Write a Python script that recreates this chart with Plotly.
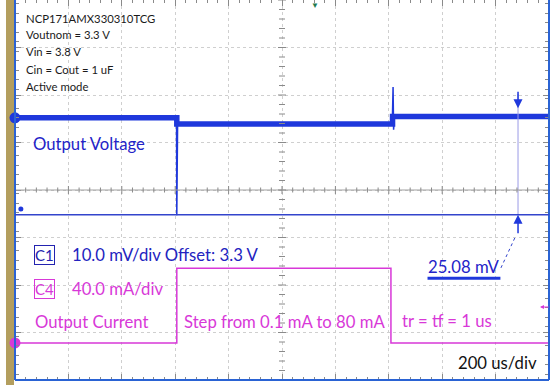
import plotly.graph_objects as go

# scope settings
TIME_PER_DIV = 200      # us/div
V_PER_DIV = 10          # mV/div (C1, offset 3.3 V)
I_PER_DIV = 40          # mA/div (C4)
V_ZERO_DIV = 1.52       # C1 ground marker, divisions above centre
I_ZERO_DIV = -3.22      # C4 ground marker, divisions above centre

# C1 output voltage, mV relative to 3.3 V
v_time = [0, 605, 606, 609, 1413, 1416, 1418, 1421, 2000]
v_mv = [0, 0, -20.5, -1.3, -1.3, 6.5, -2.5, 0.3, 0.3]
# noise band (trace levels)
band_time = [0, 606, 606, 1414, 1414, 2000]
band_mv = [0, 0, -1.3, -1.3, 0.3, 0.3]

# C4 output current, mA
i_time = [0, 606, 606, 1408, 1408, 2000]
i_ma = [0, 0, 63, 63, 0, 0]

# cursor measurement
cursor_time = 1884
cursor_top_mv = 2.0
cursor_bottom_mv = -20.4
cursor_label = "25.08 mV"

info_lines = ["NCP171AMX330310TCG", "Voutnom = 3.3 V", "Vin = 3.8 V",
              "Cin = Cout = 1 uF", "Active mode"]

BLUE = "#1f38dc"
MAGENTA = "#d838d8"
TICK = "#8a8a8a"
FONT = "Lato"


def vrange(zero_div, per_div):
    return [(-4 - zero_div) * per_div, (4 - zero_div) * per_div]


def px(x, y):
    # pixel position inside the screen -> paper coords
    return (x - 15) / 534, (380 - y) / 380


fig = go.Figure()

fig.add_trace(go.Scatter(x=band_time, y=band_mv, mode="lines",
                         line=dict(color=BLUE, width=5.5), hoverinfo="skip"))
fig.add_trace(go.Scatter(x=v_time, y=v_mv, mode="lines",
                         line=dict(color=BLUE, width=1.5)))
fig.add_trace(go.Scatter(x=i_time, y=i_ma, yaxis="y2", mode="lines",
                         line=dict(color=MAGENTA, width=1.5)))

# cursor line
fig.add_trace(go.Scatter(x=[cursor_time, cursor_time], y=[cursor_top_mv + 3, cursor_bottom_mv],
                         mode="lines", line=dict(color="#9a9ae6", width=1)))

# channel ground markers
fig.add_trace(go.Scatter(x=[0], y=[0], mode="markers", cliponaxis=False,
                         marker=dict(color=BLUE, size=11)))
fig.add_trace(go.Scatter(x=[0], y=[0], yaxis="y2", mode="markers", cliponaxis=False,
                         marker=dict(color=MAGENTA, size=11)))
fig.add_trace(go.Scatter(x=[22], y=[cursor_bottom_mv + 1.2], mode="markers",
                         marker=dict(color=BLUE, size=5)))

common = dict(showgrid=True, gridcolor="#cfcfcf", griddash="dot", gridwidth=1,
              zeroline=False, showticklabels=False, ticks="inside", tickcolor=TICK,
              mirror="ticks", showline=False)

fig.update_layout(
    width=551, height=385,
    margin=dict(l=15, r=2, t=0, b=5),
    paper_bgcolor="white", plot_bgcolor="white",
    showlegend=False,
    xaxis=dict(range=[0, 10 * TIME_PER_DIV], dtick=TIME_PER_DIV, tick0=0, ticklen=6,
               minor=dict(dtick=TIME_PER_DIV / 5, ticks="inside", ticklen=3, tickcolor=TICK),
               **common),
    # voltage axis; grid follows the divisions
    yaxis=dict(range=vrange(V_ZERO_DIV, V_PER_DIV), dtick=V_PER_DIV,
               tick0=-V_ZERO_DIV * V_PER_DIV, ticklen=6,
               minor=dict(dtick=V_PER_DIV / 5, ticks="inside", ticklen=4, tickcolor=TICK),
               **common),
    yaxis2=dict(range=vrange(I_ZERO_DIV, I_PER_DIV), overlaying="y", visible=False),
)

# centre graticule with tick marks
fig.add_shape(type="line", xref="paper", yref="paper", x0=0, x1=1, y0=0.5, y1=0.5,
              line=dict(color="#a0a0a0", width=1))
for k in range(51):
    h = (4 if k % 5 == 0 else 2.5) / 380
    fig.add_shape(type="line", xref="x", yref="paper", x0=k * TIME_PER_DIV / 5,
                  x1=k * TIME_PER_DIV / 5, y0=0.5 - h, y1=0.5 + h, line=dict(color=TICK, width=1))
for k in range(41):
    w = (4 if k % 5 == 0 else 3) / 534
    fig.add_shape(type="line", xref="paper", yref="paper", x0=0.5 - w, x1=0.5 + w,
                  y0=k / 40, y1=k / 40, line=dict(color=TICK, width=1))

# screen frame and bezel strip
x0, _ = px(6, 0)
x1, _ = px(14, 0)
fig.add_shape(type="rect", xref="paper", yref="paper", x0=x0, x1=x1, y0=-0.013, y1=1,
              fillcolor="#b39e5e", line_width=0, layer="below")
for s in [dict(x0=0, x1=0, y0=0, y1=1), dict(x0=0, x1=1, y0=0, y1=0), dict(x0=1, x1=1, y0=0, y1=1)]:
    fig.add_shape(type="line", xref="paper", yref="paper", line=dict(color="#2a63d4", width=2), **s)

# horizontal cursor
fig.add_shape(type="line", xref="paper", yref="y", x0=0, x1=1,
              y0=cursor_bottom_mv, y1=cursor_bottom_mv, line=dict(color="#3344cc", width=1.5))

# cursor arrows
fig.add_annotation(x=cursor_time, y=cursor_bottom_mv, text="", showarrow=True,
                   ax=0, ay=20, arrowhead=2, arrowsize=1.2, arrowwidth=1.5, arrowcolor=BLUE)
fig.add_annotation(x=cursor_time, y=cursor_top_mv, text="", showarrow=True,
                   ax=0, ay=-18, arrowhead=2, arrowsize=1.2, arrowwidth=1.5, arrowcolor=BLUE)
fig.add_shape(type="line", xref="x", yref="y", x0=1820, y0=-31.6, x1=1876, y1=-24.8,
              line=dict(color="#3344cc", width=1, dash="dot"))
fig.add_shape(type="line", xref="x", yref="y", x0=1545, y0=-33.8, x1=1818, y1=-33.8,
              line=dict(color=BLUE, width=3))


def label(text, x, y, color, size, **kw):
    ax, ay = px(x, y)
    fig.add_annotation(xref="paper", yref="paper", x=ax, y=ay, text=text, showarrow=False,
                       xanchor="left", yanchor="middle",
                       font=dict(family=FONT, size=size, color=color), **kw)


for k, line in enumerate(info_lines):
    label(line, 24, 18 + 17 * k, "#1a1a1a", 11.3)

label("Output Voltage", 31, 144, "#2323c8", 16.7)
label("C1", 34, 255, "#2323b0", 15, bordercolor="#2323b0", borderwidth=1, borderpad=0)
label("10.0 mV/div Offset: 3.3 V", 70, 255, "#2323c0", 16.7)
label("C4", 34, 289, MAGENTA, 15, bordercolor=MAGENTA, borderwidth=1, borderpad=0)
label("40.0 mA/div", 70, 289, MAGENTA, 16.7)
label("Output Current", 33, 322, MAGENTA, 16.7)
label("Step from 0.1 mA to 80 mA", 182, 322, MAGENTA, 16.7)
label("tr = tf = 1 us", 400, 321, MAGENTA, 16.7)
label(cursor_label, 426, 267, "#2323c8", 16.7)
label("200 us/div", 456, 363, "#111111", 16.7)
label("\u25bc", 309, 5, "#1f7a50", 8)

# C4 offset arrow at right edge
ax_, ay_ = px(540, 307)
fig.add_annotation(xref="paper", yref="paper", x=ax_, y=ay_, ax=10, ay=0, text="",
                   showarrow=True, arrowhead=2, arrowsize=0.8, arrowwidth=1, arrowcolor=MAGENTA)

fig.write_html("out.html", config={"displayModeBar": False},
               post_script="document.body.style.margin='0px';")
